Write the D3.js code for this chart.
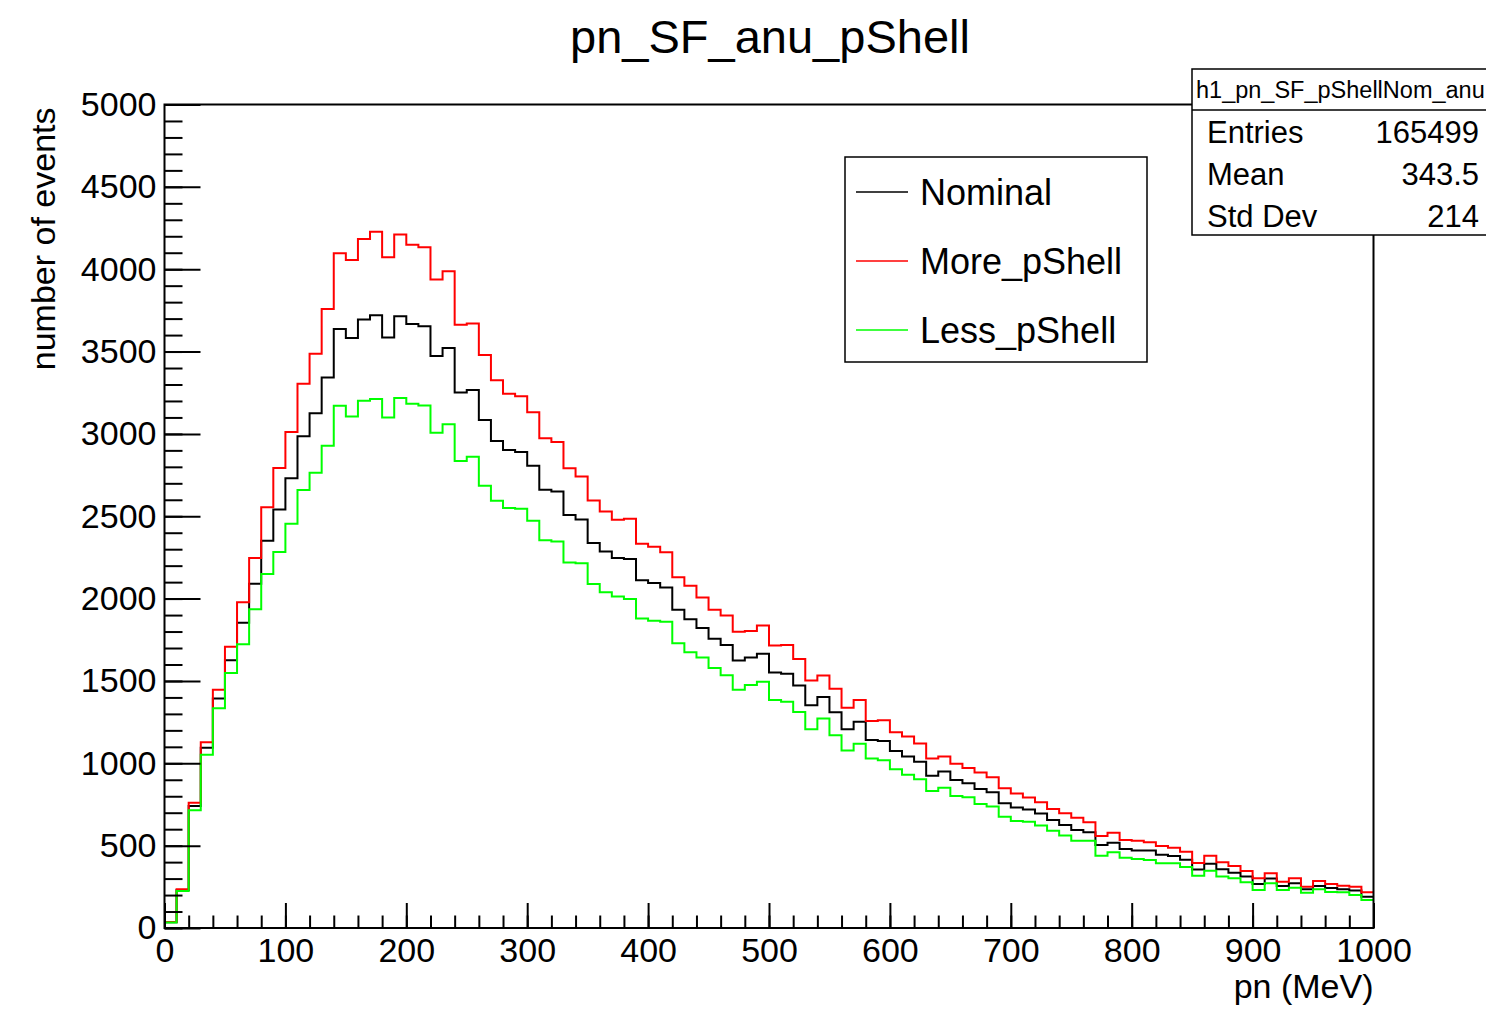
<!DOCTYPE html>
<html>
<head>
<meta charset="utf-8">
<script src="https://cdn.jsdelivr.net/npm/d3@7"></script>
<style>
    body { margin: 0; background: #fff; }
    svg { display: block; font-family: 'Liberation Sans', Arial, Helvetica, sans-serif; }
</style>
</head>
<body>
<div class="chart"></div>
<script>
// bins of 10 MeV from 0 to 1000
const binWidth = 10
const nominal = [
    35, 230, 740, 1095, 1394, 1625, 1853, 2090, 2351, 2541,
    2731, 2985, 3126, 3343, 3637, 3582, 3694, 3720, 3586, 3714,
    3667, 3653, 3473, 3522, 3252, 3267, 3084, 2957, 2902, 2890,
    2807, 2661, 2651, 2507, 2481, 2337, 2286, 2246, 2240, 2112,
    2094, 2068, 1932, 1875, 1822, 1756, 1718, 1624, 1642, 1665,
    1551, 1543, 1472, 1353, 1403, 1310, 1207, 1253, 1142, 1136,
    1075, 1041, 1009, 925, 950, 899, 879, 844, 824, 757,
    731, 719, 695, 656, 626, 595, 581, 504, 518, 480,
    470, 470, 444, 437, 415, 355, 390, 357, 336, 312,
    267, 300, 255, 272, 235, 255, 243, 235, 227, 190
]
const morePShell = [
    37, 236, 761, 1128, 1446, 1707, 1978, 2247, 2554, 2793,
    3011, 3305, 3486, 3759, 4097, 4056, 4184, 4228, 4073, 4210,
    4149, 4133, 3937, 3987, 3663, 3671, 3479, 3325, 3244, 3228,
    3131, 2973, 2951, 2792, 2742, 2596, 2529, 2479, 2485, 2333,
    2315, 2282, 2130, 2078, 2007, 1932, 1897, 1798, 1804, 1837,
    1716, 1718, 1634, 1502, 1533, 1452, 1338, 1385, 1257, 1262,
    1189, 1162, 1120, 1029, 1041, 998, 972, 944, 915, 849,
    816, 793, 764, 723, 697, 670, 642, 559, 579, 535,
    529, 520, 498, 488, 463, 395, 439, 399, 377, 346,
    302, 332, 281, 302, 251, 286, 267, 257, 251, 217
]
const lessPShell = [
    33, 225, 715, 1052, 1334, 1549, 1723, 1935, 2149, 2283,
    2454, 2660, 2764, 2928, 3171, 3106, 3202, 3212, 3100, 3218,
    3183, 3172, 3007, 3059, 2835, 2861, 2685, 2594, 2550, 2546,
    2473, 2355, 2347, 2219, 2215, 2088, 2039, 2013, 1997, 1879,
    1865, 1859, 1729, 1675, 1642, 1578, 1534, 1446, 1476, 1495,
    1385, 1373, 1312, 1207, 1272, 1170, 1077, 1119, 1029, 1019,
    964, 930, 903, 832, 852, 802, 794, 753, 737, 676,
    650, 645, 622, 591, 561, 529, 529, 439, 460, 427,
    419, 413, 393, 393, 370, 317, 348, 312, 302, 278,
    231, 272, 231, 245, 214, 235, 219, 217, 200, 170
]
const xTicks = [0, 100, 200, 300, 400, 500, 600, 700, 800, 900, 1000]
const yTicks = [0, 500, 1000, 1500, 2000, 2500, 3000, 3500, 4000, 4500, 5000]
const seriesNames = ['Nominal', 'More_pShell', 'Less_pShell']
const seriesColors = ['#000000', '#ff0000', '#00ff00']
const statsTitle = 'h1_pn_SF_pShellNom_anu'
const statsLabels = ['Entries', 'Mean', 'Std Dev']
const statsValues = ['165499', '343.5', '214']

class HistChart {

    constructor(series) {
        this.series = series
        this.fullWidth = 1486
        this.fullHeight = 1009
        this.frame = {left: 164.5, right: 1373.5, top: 104.5, bottom: 928}
        this.svg = {}
    }

    render() {
        this.svg = d3.select('.chart').append('svg')
            .attr('width', this.fullWidth)
            .attr('height', this.fullHeight)
        this.xScale = d3.scaleLinear().domain([0, 1000]).range([this.frame.left, this.frame.right])
        this.yScale = d3.scaleLinear().domain([0, 5000]).range([this.frame.bottom, this.frame.top])
        this.createHistograms()
        this.createAxes()
        this.createFrame()
        this.createTitles()
        this.createLegend()
        this.createStats()
    }

    createHistograms() {
        let line = d3.line()
            .x(d => this.xScale(d[0]))
            .y(d => this.yScale(d[1]))
            .curve(d3.curveStepAfter)

        this.series.forEach((s, k) => {
            let pts = s.map((v, i) => [i * binWidth, v])
            pts.push([s.length * binWidth, s[s.length - 1]])
            this.svg.append('path')
                .attr('d', line(pts))
                .attr('fill', 'none')
                .attr('stroke', seriesColors[k])
                .attr('stroke-width', 2)
        })
    }

    createAxes() {
        // minor ticks first, majors with labels on top
        let yMinor = d3.axisLeft(this.yScale).tickValues(d3.range(0, 5001, 100))
            .tickSizeInner(-18).tickSizeOuter(0).tickFormat('')
        let yMajor = d3.axisLeft(this.yScale).tickValues(yTicks)
            .tickSizeInner(-36).tickSizeOuter(0).tickPadding(8).tickFormat(d3.format('d'))
        let xMinor = d3.axisBottom(this.xScale).tickValues(d3.range(0, 1001, 20))
            .tickSizeInner(-12.5).tickSizeOuter(0).tickFormat('')
        let xMajor = d3.axisBottom(this.xScale).tickValues(xTicks)
            .tickSizeInner(-25).tickSizeOuter(0).tickPadding(10).tickFormat(d3.format('d'))

        let gy = this.svg.append('g').attr('transform', `translate(${this.frame.left},0)`)
        gy.append('g').call(yMinor)
        gy.append('g').call(yMajor)
        let gx = this.svg.append('g').attr('transform', `translate(0,${this.frame.bottom})`)
        gx.append('g').call(xMinor)
        gx.append('g').call(xMajor)

        this.svg.selectAll('.domain').remove()
        this.svg.selectAll('.tick line').attr('stroke', '#000').attr('stroke-width', 2)
        this.svg.selectAll('.tick text')
            .attr('fill', '#000')
            .style('font-size', '34px')
    }

    createFrame() {
        this.svg.append('rect')
            .attr('x', this.frame.left)
            .attr('y', this.frame.top)
            .attr('width', this.frame.right - this.frame.left)
            .attr('height', this.frame.bottom - this.frame.top)
            .attr('fill', 'none')
            .attr('stroke', '#000')
            .attr('stroke-width', 2)
    }

    createTitles() {
        this.svg.append('text')
            .attr('x', 770).attr('y', 53)
            .attr('text-anchor', 'middle')
            .style('font-size', '47px')
            .text('pn_SF_anu_pShell')

        this.svg.append('text')
            .attr('x', this.frame.right).attr('y', 998)
            .attr('text-anchor', 'end')
            .style('font-size', '34px')
            .text('pn (MeV)')

        this.svg.append('text')
            .attr('transform', `translate(55,${this.frame.top + 3}) rotate(-90)`)
            .attr('text-anchor', 'end')
            .style('font-size', '34px')
            .text('number of events')
    }

    createLegend() {
        let g = this.svg.append('g').attr('transform', 'translate(845,157)')
        g.append('rect')
            .attr('width', 302).attr('height', 205)
            .attr('fill', '#fff').attr('stroke', '#000').attr('stroke-width', 1.5)

        seriesNames.forEach((name, i) => {
            let y = 35 + i * 69
            g.append('line')
                .attr('x1', 11).attr('x2', 63)
                .attr('y1', y).attr('y2', y)
                .attr('stroke', seriesColors[i]).attr('stroke-width', 1.5)
            g.append('text')
                .attr('x', 75).attr('y', y + 13)
                .style('font-size', '36px')
                .text(name)
        })
    }

    createStats() {
        let g = this.svg.append('g').attr('transform', 'translate(1192,69)')
        g.append('rect')
            .attr('width', 320).attr('height', 166)
            .attr('fill', '#fff').attr('stroke', '#000').attr('stroke-width', 1.5)
        g.append('line')
            .attr('x1', 0).attr('x2', 320).attr('y1', 41).attr('y2', 41)
            .attr('stroke', '#000').attr('stroke-width', 1.5)
        g.append('text')
            .attr('x', 4).attr('y', 29)
            .style('font-size', '23.5px')
            .text(statsTitle)

        statsLabels.forEach((label, i) => {
            let y = 74 + i * 42
            g.append('text')
                .attr('x', 15).attr('y', y)
                .style('font-size', '31px')
                .text(label)
            g.append('text')
                .attr('x', 287).attr('y', y)
                .attr('text-anchor', 'end')
                .style('font-size', '31px')
                .text(statsValues[i])
        })
    }

}

new HistChart([nominal, morePShell, lessPShell]).render()
</script>
</body>
</html>
